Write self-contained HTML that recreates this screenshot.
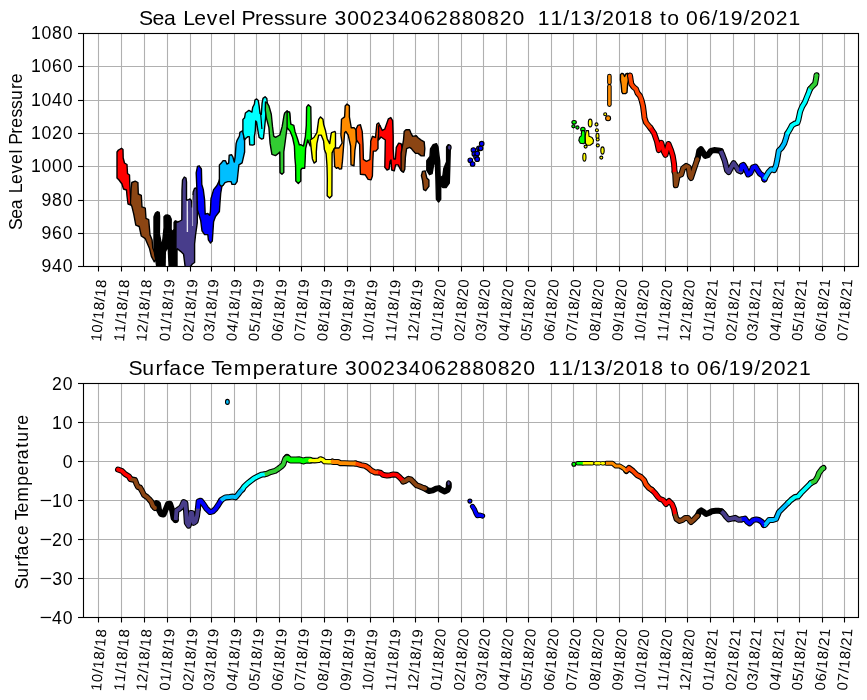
<!DOCTYPE html>
<html><head><meta charset="utf-8"><style>html,body{margin:0;padding:0;background:#fff;overflow:hidden}svg{display:block;will-change:transform}text{font-family:"Liberation Sans",sans-serif;fill:#000}</style></head>
<body><svg width="867" height="700" viewBox="0 0 867 700" stroke-width="1.11" fill="none">
<defs><clipPath id="c1"><rect x="83.5" y="33.5" width="775" height="233"/></clipPath><clipPath id="c2"><rect x="83.5" y="383.5" width="775" height="234"/></clipPath></defs>
<rect width="867" height="700" fill="#fff"/>
<path d="M83.5 266.5H858.5" stroke="#b0b0b0"/>
<path d="M83.5 233.5H858.5" stroke="#b0b0b0"/>
<path d="M83.5 200.5H858.5" stroke="#b0b0b0"/>
<path d="M83.5 166.5H858.5" stroke="#b0b0b0"/>
<path d="M83.5 133.5H858.5" stroke="#b0b0b0"/>
<path d="M83.5 100.5H858.5" stroke="#b0b0b0"/>
<path d="M83.5 66.5H858.5" stroke="#b0b0b0"/>
<path d="M83.5 33.5H858.5" stroke="#b0b0b0"/>
<path d="M98.5 33.5V266.5" stroke="#b0b0b0"/>
<path d="M121.5 33.5V266.5" stroke="#b0b0b0"/>
<path d="M144.5 33.5V266.5" stroke="#b0b0b0"/>
<path d="M167.5 33.5V266.5" stroke="#b0b0b0"/>
<path d="M190.5 33.5V266.5" stroke="#b0b0b0"/>
<path d="M211.5 33.5V266.5" stroke="#b0b0b0"/>
<path d="M234.5 33.5V266.5" stroke="#b0b0b0"/>
<path d="M256.5 33.5V266.5" stroke="#b0b0b0"/>
<path d="M279.5 33.5V266.5" stroke="#b0b0b0"/>
<path d="M301.5 33.5V266.5" stroke="#b0b0b0"/>
<path d="M324.5 33.5V266.5" stroke="#b0b0b0"/>
<path d="M347.5 33.5V266.5" stroke="#b0b0b0"/>
<path d="M370.5 33.5V266.5" stroke="#b0b0b0"/>
<path d="M393.5 33.5V266.5" stroke="#b0b0b0"/>
<path d="M415.5 33.5V266.5" stroke="#b0b0b0"/>
<path d="M438.5 33.5V266.5" stroke="#b0b0b0"/>
<path d="M461.5 33.5V266.5" stroke="#b0b0b0"/>
<path d="M483.5 33.5V266.5" stroke="#b0b0b0"/>
<path d="M506.5 33.5V266.5" stroke="#b0b0b0"/>
<path d="M528.5 33.5V266.5" stroke="#b0b0b0"/>
<path d="M551.5 33.5V266.5" stroke="#b0b0b0"/>
<path d="M573.5 33.5V266.5" stroke="#b0b0b0"/>
<path d="M596.5 33.5V266.5" stroke="#b0b0b0"/>
<path d="M619.5 33.5V266.5" stroke="#b0b0b0"/>
<path d="M642.5 33.5V266.5" stroke="#b0b0b0"/>
<path d="M665.5 33.5V266.5" stroke="#b0b0b0"/>
<path d="M687.5 33.5V266.5" stroke="#b0b0b0"/>
<path d="M710.5 33.5V266.5" stroke="#b0b0b0"/>
<path d="M733.5 33.5V266.5" stroke="#b0b0b0"/>
<path d="M754.5 33.5V266.5" stroke="#b0b0b0"/>
<path d="M777.5 33.5V266.5" stroke="#b0b0b0"/>
<path d="M799.5 33.5V266.5" stroke="#b0b0b0"/>
<path d="M822.5 33.5V266.5" stroke="#b0b0b0"/>
<path d="M844.5 33.5V266.5" stroke="#b0b0b0"/>
<g clip-path="url(#c1)"><polygon points="121.5,148.3 123.0,149.5 123.2,158.0 124.5,163.0 127.0,164.5 127.5,173.5 129.5,175.0 129.8,184.0 130.4,195.0 131.0,205.0 128.0,204.0 127.0,196.0 126.5,190.0 123.5,189.0 122.0,184.0 119.0,180.0 117.0,178.0 117.0,152.0 118.5,150.0" fill="#ff0000" stroke="#000" stroke-width="1.4" stroke-linejoin="round"/>
<polygon points="135.2,181.1 137.9,182.5 138.3,194.0 141.3,195.3 142.0,206.9 145.3,208.2 146.0,218.4 148.7,219.7 150.0,234.7 152.1,240.1 152.8,248.2 154.8,252.3 155.9,259.1 154.2,261.8 151.4,256.4 149.4,248.2 145.3,238.7 141.3,236.0 139.2,226.5 135.8,225.2 133.8,214.3 131.8,206.2 130.4,203.5 131.1,188.6 131.8,182.5" fill="#8b4513" stroke="#000" stroke-width="1.4" stroke-linejoin="round"/>
<polygon points="157.0,268.0 155.5,259.0 154.0,250.0 154.0,216.7 155.5,213.0 157.2,211.7 159.2,212.5 159.6,216.0 159.4,233.8 160.6,240.0 161.3,246.5 162.8,240.0 164.1,227.5 164.0,216.7 165.5,215.3 167.5,215.0 169.8,216.0 171.2,219.0 171.1,229.3 172.6,232.0 174.1,229.0 174.1,222.5 175.2,220.8 177.0,221.5 177.0,268.0" fill="#000000" stroke="#000" stroke-width="1.4" stroke-linejoin="round"/>
<polygon points="166,252 167.6,249 168.4,267 165.8,267" fill="#fff"/>
<polygon points="175.9,251.0 176.0,222.7 179.0,221.5 181.8,220.0 182.0,190.0 182.5,180.0 184.3,177.0 186.0,178.0 186.5,182.0 186.5,200.0 188.7,199.6 190.0,199.0 191.6,201.0 192.0,207.0 193.2,192.0 194.5,188.5 196.0,188.0 197.3,190.0 197.3,222.7 195.5,235.3 194.6,244.0 194.6,262.5 192.4,264.0 189.3,268.0 185.3,268.0 183.6,254.3 180.9,251.6 177.4,248.8" fill="#483d8b" stroke="#000" stroke-width="1.4" stroke-linejoin="round"/>
<polyline points="187.3,201 187.4,232" stroke="#fff" stroke-width="1.4" opacity="0.85"/><polyline points="192.6,195 192.6,226" stroke="#fff" stroke-width="1" opacity="0.6"/>
<polygon points="199.2,165.8 201.4,169.0 201.8,184.5 203.3,189.6 204.6,199.9 205.2,214.1 207.8,213.4 209.7,215.3 210.4,211.5 211.0,198.6 213.6,189.6 216.8,185.7 218.7,181.9 220.0,178.0 220.5,170.0 222.5,172.0 222.0,185.7 220.7,193.5 220.0,202.5 219.4,211.5 215.5,216.6 213.6,221.8 212.9,232.1 212.3,241.1 210.4,243.0 208.4,239.8 207.8,234.6 204.6,234.6 202.0,230.8 200.7,220.5 198.8,214.1 197.5,210.2 196.9,189.6 196.2,172.9 197.5,166.4" fill="#0000ff" stroke="#000" stroke-width="1.4" stroke-linejoin="round"/>
<polygon points="219.4,184.4 219.4,164.9 221.3,163.1 223.1,160.7 225.5,160.7 226.9,164.0 228.7,163.1 229.2,155.2 231.5,154.7 232.9,157.0 234.3,162.1 235.2,156.6 236.1,143.6 237.1,140.3 239.4,136.0 239.9,132.3 242.9,130.6 244.6,141.0 244.6,152.0 242.1,162.9 238.9,164.9 238.0,173.3 237.1,181.6 235.2,184.4 232.0,184.4 231.0,181.6 227.8,181.6 225.0,182.6 223.1,185.4 221.3,186.3" fill="#00bfff" stroke="#000" stroke-width="1.4" stroke-linejoin="round"/>
<polygon points="242.9,132.3 242.9,119.4 244.6,117.7 245.4,113.0 248.9,110.4 251.9,112.1 252.7,107.4 254.4,104.0 254.9,100.1 256.6,98.9 258.3,100.6 259.1,105.7 260.0,113.4 261.3,114.3 262.1,103.1 263.0,98.4 265.1,96.7 266.8,98.4 267.3,103.1 266.0,109.1 265.6,117.7 264.3,130.6 263.4,138.3 261.7,139.1 259.1,137.4 257.9,130.6 256.6,122.0 255.7,121.1 255.3,130.6 254.4,136.6 254.4,144.3 252.7,145.1 249.7,144.7 249.3,136.6 248.0,136.6 245.9,138.3 244.6,140.0" fill="#00ffff" stroke="#000" stroke-width="1.4" stroke-linejoin="round"/>
<polyline points="260.6,113.5 261.2,120 261.9,129" stroke="#000" stroke-width="1.2" fill="none"/>
<polygon points="265.5,102.0 267.3,103.1 268.9,105.8 271.3,114.3 272.5,126.4 273.7,136.2 275.5,137.4 279.8,135.0 282.2,126.4 284.0,115.5 284.7,113.0 287.1,110.8 289.6,113.2 290.5,124.0 290.0,130.0 287.0,128.0 285.3,141.0 283.8,151.9 283.8,172.6 282.0,174.2 280.0,172.6 279.8,151.9 278.6,153.2 275.5,155.6 271.9,154.4 270.1,143.4 268.9,127.7 266.4,118.0 265.3,110.0" fill="#32cd32" stroke="#000" stroke-width="1.4" stroke-linejoin="round"/>
<polygon points="287.1,112.0 289.6,112.0 290.8,124.2 293.8,125.4 295.0,131.4 297.5,138.7 299.3,144.8 301.1,144.8 303.5,146.0 305.4,136.3 306.3,125.4 306.6,107.1 308.4,104.7 310.8,107.1 311.2,131.4 311.4,138.7 310.2,146.0 307.7,140.0 305.6,148.6 305.1,161.4 304.7,168.3 302.1,168.3 300.8,170.0 300.8,181.1 298.3,183.4 295.8,181.1 295.6,165.7 294.9,158.0 294.4,146.0 292.6,137.5 290.2,131.4 287.1,127.8" fill="#00ff00" stroke="#000" stroke-width="1.4" stroke-linejoin="round"/>
<polygon points="310.2,140.0 313.9,137.5 316.9,132.7 318.7,119.3 320.5,116.9 323.0,119.3 323.6,124.2 325.4,130.2 327.2,138.7 329.7,143.6 330.9,135.1 331.5,132.7 335.0,131.4 335.5,133.0 335.5,147.0 333.8,149.4 332.1,152.9 332.0,174.3 331.9,195.7 329.6,198.0 327.2,195.7 327.3,178.6 327.0,165.7 326.1,153.7 324.4,149.4 323.6,141.0 321.2,135.1 318.7,135.1 316.9,143.6 316.3,152.0 316.3,161.4 314.1,163.1 312.4,158.9 311.1,147.7 310.7,144.0" fill="#ffff00" stroke="#000" stroke-width="1.4" stroke-linejoin="round"/>
<polygon points="333.8,149.4 334.3,157.1 334.7,166.6 336.4,168.3 338.1,167.4 339.4,169.1 341.6,168.7 342.4,161.4 343.4,148.4 344.6,132.7 345.8,131.4 348.2,135.1 350.6,146.0 351.0,164.9 354.0,165.7 354.9,150.3 356.5,140.0 356.1,130.2 354.3,127.8 351.3,127.8 349.4,116.9 349.4,105.9 347.0,104.1 345.2,105.9 344.6,116.9 341.5,119.3 340.9,135.1 342.1,143.0 339.0,148.0 335.5,148.0" fill="#ff8c00" stroke="#000" stroke-width="1.4" stroke-linejoin="round"/>
<polygon points="356.1,129.0 357.9,125.4 360.4,124.8 362.2,131.4 363.0,144.0 363.4,159.4 366.4,161.4 369.9,159.7 370.7,144.3 370.7,141.2 372.5,136.3 375.5,137.5 376.8,124.2 378.6,122.9 380.0,126.0 378.0,140.0 378.0,148.6 375.8,151.1 373.3,151.1 372.8,161.4 372.4,176.0 371.1,179.8 368.1,179.4 365.1,174.7 360.4,174.3 359.6,144.3 356.5,140.0" fill="#ff4500" stroke="#000" stroke-width="1.4" stroke-linejoin="round"/>
<polygon points="378.6,126.0 379.9,125.5 382.3,130.4 384.7,129.2 387.1,122.5 388.4,118.8 390.8,117.6 392.6,120.6 393.2,136.4 393.2,148.6 393.8,159.0 395.4,159.0 396.3,147.4 398.7,143.1 401.1,143.7 402.3,148.6 402.8,160.0 402.4,171.7 400.7,170.0 398.1,164.9 395.6,164.9 394.3,170.8 391.7,170.0 391.0,160.0 390.0,161.4 389.1,169.1 387.0,170.0 384.8,167.4 385.3,140.0 381.0,137.0 378.5,140.0" fill="#ff0000" stroke="#000" stroke-width="1.4" stroke-linejoin="round"/>
<polygon points="402.9,171.7 401.1,170.4 401.1,153.4 403.5,140.1 404.2,131.6 406.0,129.8 409.6,129.8 410.8,132.8 412.7,136.4 416.3,135.8 418.1,137.7 421.2,140.1 424.2,141.9 424.8,148.6 424.2,155.9 421.2,155.9 418.1,153.4 415.7,153.4 413.3,151.0 411.4,148.6 409.6,147.4 406.6,148.6 405.4,157.1 404.8,169.2 403.5,172.3" fill="#8b4513" stroke="#000" stroke-width="1.4" stroke-linejoin="round"/>
<polygon points="422.5,171.4 425.2,170.9 426.8,177.9 428.9,180.0 428.9,186.4 425.7,190.7 423.6,189.7 422.5,180.0 421.4,175.7" fill="#8b4513" stroke="#000" stroke-width="1.4" stroke-linejoin="round"/>
<polygon points="426.8,160.7 430.0,156.4 430.5,148.9 433.2,144.6 436.4,143.6 438.0,146.8 439.1,156.4 439.7,160.7 440.2,177.9 442.9,175.7 443.9,168.2 446.6,161.8 446.6,146.8 448.2,144.6 450.4,145.7 449.8,167.2 449.3,183.2 446.1,187.5 442.9,187.5 440.7,185.4 440.7,199.3 438.6,202.0 436.4,199.3 435.9,177.9 435.4,163.9 433.8,163.9 432.1,173.6 429.5,174.7 426.8,170.4" fill="#000000" stroke="#000" stroke-width="1.4" stroke-linejoin="round"/>
<ellipse cx="449.3" cy="147.6" rx="1.8" ry="2.6" fill="#483d8b" stroke="#000" stroke-width="1.1"/>
<circle cx="470.3" cy="160.3" r="2.3" fill="#0000ff" stroke="#000" stroke-width="1.1"/>
<circle cx="472.6" cy="164" r="2.3" fill="#0000ff" stroke="#000" stroke-width="1.1"/>
<circle cx="473.4" cy="150" r="2.3" fill="#0000ff" stroke="#000" stroke-width="1.1"/>
<circle cx="474.3" cy="154" r="2.3" fill="#0000ff" stroke="#000" stroke-width="1.1"/>
<circle cx="476" cy="156.9" r="2.3" fill="#0000ff" stroke="#000" stroke-width="1.1"/>
<circle cx="477.2" cy="153.4" r="2.3" fill="#0000ff" stroke="#000" stroke-width="1.1"/>
<circle cx="477.2" cy="159.2" r="2.3" fill="#0000ff" stroke="#000" stroke-width="1.1"/>
<circle cx="478.9" cy="148.3" r="2.3" fill="#0000ff" stroke="#000" stroke-width="1.1"/>
<circle cx="480.6" cy="148.3" r="2.3" fill="#0000ff" stroke="#000" stroke-width="1.1"/>
<circle cx="481.7" cy="143.7" r="2.3" fill="#0000ff" stroke="#000" stroke-width="1.1"/>
<ellipse cx="574.1" cy="122.3" rx="2.2" ry="1.8" fill="#00ff00" stroke="#000" stroke-width="1.1"/>
<circle cx="573.4" cy="126.3" r="1.6" fill="#00ff00" stroke="#000" stroke-width="1.1"/>
<circle cx="577.4" cy="127.5" r="1.6" fill="#00ff00" stroke="#000" stroke-width="1.1"/>
<circle cx="582.9" cy="129.4" r="2.2" fill="#00ff00" stroke="#000" stroke-width="1.1"/>
<polygon points="581.7,130.6 584.3,130.6 585.0,132.9 585.0,142.8 583.6,143.8 580.3,143.3 578.8,140.5 579.6,137.2 581.2,135.8" fill="#00ff00" stroke="#000" stroke-width="1.1" stroke-linejoin="round"/>
<polygon points="586.2,130.6 588.5,130.6 589.0,136.2 592.1,137.6 593.5,140.0 593.0,143.3 590.2,145.2 586.9,145.2 585.5,143.3 585.3,136.0" fill="#ffff00" stroke="#000" stroke-width="1.1" stroke-linejoin="round"/>
<ellipse cx="590.2" cy="123" rx="1.9" ry="3.9" fill="#ffff00" stroke="#000" stroke-width="1.1"/>
<circle cx="596.5" cy="124.4" r="1.5" fill="#ffff00" stroke="#000" stroke-width="1.1"/>
<circle cx="596.9" cy="130.2" r="1.5" fill="#ffff00" stroke="#000" stroke-width="1.1"/>
<ellipse cx="597.5" cy="136" rx="1.5" ry="2.8" fill="#ffff00" stroke="#000" stroke-width="1.1"/>
<circle cx="597.7" cy="139.5" r="1.5" fill="#ffff00" stroke="#000" stroke-width="1.1"/>
<circle cx="597.8" cy="145.4" r="1.5" fill="#ffff00" stroke="#000" stroke-width="1.1"/>
<ellipse cx="602.5" cy="150.5" rx="1.7" ry="3.6" fill="#ffff00" stroke="#000" stroke-width="1.1"/>
<circle cx="601.3" cy="157.6" r="1.5" fill="#ffff00" stroke="#000" stroke-width="1.1"/>
<circle cx="605.2" cy="114.3" r="1.5" fill="#ffff00" stroke="#000" stroke-width="1.1"/>
<ellipse cx="584.4" cy="157.2" rx="1.6" ry="3.9" fill="#ffff00" stroke="#000" stroke-width="1.1"/>
<circle cx="585.6" cy="146.6" r="1.5" fill="#ffff00" stroke="#000" stroke-width="1.1"/>
<circle cx="608.1" cy="118.2" r="2.5" fill="#ff8c00" stroke="#000" stroke-width="1.1"/>
<line x1="609.4" y1="76" x2="609.4" y2="82.8" stroke="#000" stroke-width="4.6" stroke-linecap="round"/><line x1="609.4" y1="76" x2="609.4" y2="82.8" stroke="#ff8c00" stroke-width="2.6" stroke-linecap="round"/>
<line x1="609.4" y1="86.4" x2="609.4" y2="104.6" stroke="#000" stroke-width="4.6" stroke-linecap="round"/><line x1="609.4" y1="86.4" x2="609.4" y2="104.6" stroke="#ff8c00" stroke-width="2.6" stroke-linecap="round"/>
<polygon points="620.5,74.5 622.0,73.3 623.5,74.0 624.6,76.5 625.8,74.0 627.2,73.3 628.6,74.5 628.6,80.0 627.6,84.0 627.0,92.5 625.5,93.6 622.8,93.6 621.8,92.0 621.2,85.0 620.4,80.0" fill="#ff8c00" stroke="#000" stroke-width="1.4" stroke-linejoin="round"/>
<polyline points="630.0,75.5 631.3,84.0 633.5,87.0 636.0,89.0 637.5,93.0 640.0,96.0 641.5,100.0 643.0,106.0 643.8,112.0 644.5,118.0 646.0,122.5 648.0,125.0 650.5,128.0" fill="none" stroke="#000" stroke-width="6.0" stroke-linejoin="round" stroke-linecap="round"/>
<polyline points="650.5,128.0 654.0,133.1 657.0,141.6 658.8,150.1 661.3,142.8 663.7,151.3 665.5,154.9 668.5,144.0 671.0,150.1 672.8,156.2 674.0,163.4 674.6,171.9" fill="none" stroke="#000" stroke-width="6.0" stroke-linejoin="round" stroke-linecap="round"/>
<polyline points="674.6,171.9 675.2,174.4 675.8,185.3 677.7,175.6 681.3,174.4 683.1,168.3 686.2,165.9 688.6,167.1 689.8,175.6 691.0,178.0 693.4,170.7 695.9,163.4 697.3,159.2" fill="none" stroke="#000" stroke-width="6.0" stroke-linejoin="round" stroke-linecap="round"/>
<polyline points="697.3,159.2 698.1,156.8 699.3,150.6 700.9,149.1 702.9,152.1 705.3,156.0 707.8,155.2 711.0,150.9 714.2,150.1 718.2,150.4 720.7,151.0" fill="none" stroke="#000" stroke-width="6.0" stroke-linejoin="round" stroke-linecap="round"/>
<polyline points="720.7,151.0 722.3,154.4 724.7,160.8 727.1,170.5 728.7,172.1 731.2,167.3 733.6,163.2 736.0,166.5 738.4,170.5 740.8,171.3" fill="none" stroke="#000" stroke-width="6.0" stroke-linejoin="round" stroke-linecap="round"/>
<polyline points="740.8,171.3 741.7,165.7 743.3,164.9 745.7,168.9 748.1,174.5 750.5,172.9 753.0,167.3 755.4,166.5 757.8,170.5 760.0,173.7 763.0,175.7 764.4,179.4" fill="none" stroke="#000" stroke-width="6.0" stroke-linejoin="round" stroke-linecap="round"/>
<polyline points="764.4,179.4 765.3,177.6 768.6,172.0 771.4,169.2 774.1,170.1 776.0,165.5 777.4,159.0 778.8,150.6 781.6,147.9 784.4,143.2 786.2,137.6 787.1,133.9" fill="none" stroke="#000" stroke-width="6.0" stroke-linejoin="round" stroke-linecap="round"/>
<polyline points="787.1,133.9 789.9,129.3 791.8,125.6 794.6,123.7 797.4,122.8 798.4,119.8 800.2,111.4 802.1,106.8 804.9,102.1 806.7,97.5 808.6,92.9 810.0,89.1" fill="none" stroke="#000" stroke-width="6.0" stroke-linejoin="round" stroke-linecap="round"/>
<polyline points="810.0,89.1 812.3,86.4 815.1,83.6 816.0,78.9 816.5,75.2" fill="none" stroke="#000" stroke-width="6.0" stroke-linejoin="round" stroke-linecap="round"/>
<polyline points="630.0,75.5 631.3,84.0 633.5,87.0 636.0,89.0 637.5,93.0 640.0,96.0 641.5,100.0 643.0,106.0 643.8,112.0 644.5,118.0 646.0,122.5 648.0,125.0 650.5,128.0" fill="none" stroke="#ff4500" stroke-width="3.8" stroke-linejoin="round" stroke-linecap="butt"/>
<circle cx="630" cy="75.5" r="1.9" fill="#ff4500"/>
<circle cx="650.5" cy="128" r="1.9" fill="#ff4500"/>
<polyline points="650.5,128.0 654.0,133.1 657.0,141.6 658.8,150.1 661.3,142.8 663.7,151.3 665.5,154.9 668.5,144.0 671.0,150.1 672.8,156.2 674.0,163.4 674.6,171.9" fill="none" stroke="#ff0000" stroke-width="3.8" stroke-linejoin="round" stroke-linecap="butt"/>
<circle cx="674.6" cy="171.9" r="1.9" fill="#ff0000"/>
<polyline points="674.6,171.9 675.2,174.4 675.8,185.3 677.7,175.6 681.3,174.4 683.1,168.3 686.2,165.9 688.6,167.1 689.8,175.6 691.0,178.0 693.4,170.7 695.9,163.4 697.3,159.2" fill="none" stroke="#8b4513" stroke-width="3.8" stroke-linejoin="round" stroke-linecap="butt"/>
<circle cx="697.3" cy="159.2" r="1.9" fill="#8b4513"/>
<polyline points="720.7,151.0 722.3,154.4 724.7,160.8 727.1,170.5 728.7,172.1 731.2,167.3 733.6,163.2 736.0,166.5 738.4,170.5 740.8,171.3" fill="none" stroke="#483d8b" stroke-width="3.8" stroke-linejoin="round" stroke-linecap="butt"/>
<circle cx="740.8" cy="171.3" r="1.9" fill="#483d8b"/>
<polyline points="740.8,171.3 741.7,165.7 743.3,164.9 745.7,168.9 748.1,174.5 750.5,172.9 753.0,167.3 755.4,166.5 757.8,170.5 760.0,173.7 763.0,175.7 764.4,179.4" fill="none" stroke="#0000ff" stroke-width="3.8" stroke-linejoin="round" stroke-linecap="butt"/>
<circle cx="764.4" cy="179.4" r="1.9" fill="#0000ff"/>
<polyline points="764.4,179.4 765.3,177.6 768.6,172.0 771.4,169.2 774.1,170.1 776.0,165.5 777.4,159.0 778.8,150.6 781.6,147.9 784.4,143.2 786.2,137.6 787.1,133.9" fill="none" stroke="#00bfff" stroke-width="3.8" stroke-linejoin="round" stroke-linecap="butt"/>
<circle cx="787.1" cy="133.9" r="1.9" fill="#00bfff"/>
<polyline points="787.1,133.9 789.9,129.3 791.8,125.6 794.6,123.7 797.4,122.8 798.4,119.8 800.2,111.4 802.1,106.8 804.9,102.1 806.7,97.5 808.6,92.9 810.0,89.1" fill="none" stroke="#00ffff" stroke-width="3.8" stroke-linejoin="round" stroke-linecap="butt"/>
<circle cx="810" cy="89.1" r="1.9" fill="#00ffff"/>
<polyline points="810.0,89.1 812.3,86.4 815.1,83.6 816.0,78.9 816.5,75.2" fill="none" stroke="#32cd32" stroke-width="3.8" stroke-linejoin="round" stroke-linecap="butt"/>
<circle cx="816.5" cy="75.2" r="1.9" fill="#32cd32"/></g>
<rect x="83.5" y="33.5" width="775.0" height="233.0" fill="none" stroke="#000"/>
<path d="M78 266.5H83.5" stroke="#000"/>
<g transform="translate(41.19,272.28)"><text x="0.25 10.92 21.44" y="0" font-size="17.633">940</text></g>
<path d="M78 233.5H83.5" stroke="#000"/>
<g transform="translate(41.19,239.28)"><text x="0.25 10.93 21.44" y="0" font-size="17.633">960</text></g>
<path d="M78 200.5H83.5" stroke="#000"/>
<g transform="translate(41.19,206.28)"><text x="0.25 10.93 21.44" y="0" font-size="17.633">980</text></g>
<path d="M78 166.5H83.5" stroke="#000"/>
<g transform="translate(30.61,172.28)"><text x="0.31 10.87 21.44 32.02" y="0" font-size="17.633">1000</text></g>
<path d="M78 133.5H83.5" stroke="#000"/>
<g transform="translate(30.61,139.28)"><text x="0.31 10.87 21.40 32.02" y="0" font-size="17.633">1020</text></g>
<path d="M78 100.5H83.5" stroke="#000"/>
<g transform="translate(30.61,106.28)"><text x="0.31 10.87 21.50 32.02" y="0" font-size="17.633">1040</text></g>
<path d="M78 66.5H83.5" stroke="#000"/>
<g transform="translate(30.61,72.28)"><text x="0.31 10.87 21.51 32.02" y="0" font-size="17.633">1060</text></g>
<path d="M78 33.5H83.5" stroke="#000"/>
<g transform="translate(30.61,39.28)"><text x="0.31 10.87 21.51 32.02" y="0" font-size="17.633">1080</text></g>
<path d="M98.5 266.5V271.5" stroke="#000"/>
<g transform="translate(101.01,341.92) rotate(-85)"><text x="0.28 8.99 17.94 22.61 31.56 40.27 44.94 53.89" y="0" font-size="14.694">10/18/18</text></g>
<path d="M121.5 266.5V271.5" stroke="#000"/>
<g transform="translate(124.04,341.92) rotate(-85)"><text x="0.28 9.11 17.94 22.61 31.56 40.27 44.94 53.89" y="0" font-size="14.694">11/18/18</text></g>
<path d="M144.5 266.5V271.5" stroke="#000"/>
<g transform="translate(146.33,341.92) rotate(-85)"><text x="0.28 8.89 17.94 22.61 31.56 40.27 44.94 53.89" y="0" font-size="14.694">12/18/18</text></g>
<path d="M167.5 266.5V271.5" stroke="#000"/>
<g transform="translate(169.39,341.54) rotate(-85)"><text x="0.16 9.11 17.94 22.61 31.56 40.27 44.94 53.68" y="0" font-size="14.694">01/18/19</text></g>
<path d="M190.5 266.5V271.5" stroke="#000"/>
<g transform="translate(192.43,341.54) rotate(-85)"><text x="0.16 8.89 17.94 22.61 31.56 40.27 44.94 53.68" y="0" font-size="14.694">02/18/19</text></g>
<path d="M211.5 266.5V271.5" stroke="#000"/>
<g transform="translate(213.23,341.54) rotate(-85)"><text x="0.16 9.20 17.94 22.61 31.56 40.27 44.94 53.68" y="0" font-size="14.694">03/18/19</text></g>
<path d="M234.5 266.5V271.5" stroke="#000"/>
<g transform="translate(236.26,341.54) rotate(-85)"><text x="0.16 9.12 17.94 22.61 31.56 40.27 44.94 53.68" y="0" font-size="14.694">04/18/19</text></g>
<path d="M256.5 266.5V271.5" stroke="#000"/>
<g transform="translate(258.55,341.54) rotate(-85)"><text x="0.16 9.12 17.94 22.61 31.56 40.27 44.94 53.68" y="0" font-size="14.694">05/18/19</text></g>
<path d="M279.5 266.5V271.5" stroke="#000"/>
<g transform="translate(281.59,341.54) rotate(-85)"><text x="0.16 9.12 17.94 22.61 31.56 40.27 44.94 53.68" y="0" font-size="14.694">06/18/19</text></g>
<path d="M301.5 266.5V271.5" stroke="#000"/>
<g transform="translate(303.88,341.54) rotate(-85)"><text x="0.16 9.08 17.94 22.61 31.56 40.27 44.94 53.68" y="0" font-size="14.694">07/18/19</text></g>
<path d="M324.5 266.5V271.5" stroke="#000"/>
<g transform="translate(326.91,341.54) rotate(-85)"><text x="0.16 9.23 17.94 22.61 31.56 40.27 44.94 53.68" y="0" font-size="14.694">08/18/19</text></g>
<path d="M347.5 266.5V271.5" stroke="#000"/>
<g transform="translate(349.94,341.54) rotate(-85)"><text x="0.16 9.02 17.94 22.61 31.56 40.27 44.94 53.68" y="0" font-size="14.694">09/18/19</text></g>
<path d="M370.5 266.5V271.5" stroke="#000"/>
<g transform="translate(372.20,341.88) rotate(-85)"><text x="0.28 8.99 17.94 22.61 31.56 40.27 44.94 53.68" y="0" font-size="14.694">10/18/19</text></g>
<path d="M393.5 266.5V271.5" stroke="#000"/>
<g transform="translate(395.24,341.88) rotate(-85)"><text x="0.28 9.11 17.94 22.61 31.56 40.27 44.94 53.68" y="0" font-size="14.694">11/18/19</text></g>
<path d="M415.5 266.5V271.5" stroke="#000"/>
<g transform="translate(417.53,341.88) rotate(-85)"><text x="0.28 8.89 17.94 22.61 31.56 40.27 44.94 53.68" y="0" font-size="14.694">12/18/19</text></g>
<path d="M438.5 266.5V271.5" stroke="#000"/>
<g transform="translate(440.59,341.51) rotate(-85)"><text x="0.16 9.11 17.94 22.61 31.56 40.27 44.72 53.65" y="0" font-size="14.694">01/18/20</text></g>
<path d="M461.5 266.5V271.5" stroke="#000"/>
<g transform="translate(463.62,341.51) rotate(-85)"><text x="0.16 8.89 17.94 22.61 31.56 40.27 44.72 53.65" y="0" font-size="14.694">02/18/20</text></g>
<path d="M483.5 266.5V271.5" stroke="#000"/>
<g transform="translate(485.17,341.51) rotate(-85)"><text x="0.16 9.20 17.94 22.61 31.56 40.27 44.72 53.65" y="0" font-size="14.694">03/18/20</text></g>
<path d="M506.5 266.5V271.5" stroke="#000"/>
<g transform="translate(508.20,341.51) rotate(-85)"><text x="0.16 9.12 17.94 22.61 31.56 40.27 44.72 53.65" y="0" font-size="14.694">04/18/20</text></g>
<path d="M528.5 266.5V271.5" stroke="#000"/>
<g transform="translate(530.49,341.51) rotate(-85)"><text x="0.16 9.12 17.94 22.61 31.56 40.27 44.72 53.65" y="0" font-size="14.694">05/18/20</text></g>
<path d="M551.5 266.5V271.5" stroke="#000"/>
<g transform="translate(553.53,341.51) rotate(-85)"><text x="0.16 9.12 17.94 22.61 31.56 40.27 44.72 53.65" y="0" font-size="14.694">06/18/20</text></g>
<path d="M573.5 266.5V271.5" stroke="#000"/>
<g transform="translate(575.82,341.51) rotate(-85)"><text x="0.16 9.08 17.94 22.61 31.56 40.27 44.72 53.65" y="0" font-size="14.694">07/18/20</text></g>
<path d="M596.5 266.5V271.5" stroke="#000"/>
<g transform="translate(598.85,341.51) rotate(-85)"><text x="0.16 9.23 17.94 22.61 31.56 40.27 44.72 53.65" y="0" font-size="14.694">08/18/20</text></g>
<path d="M619.5 266.5V271.5" stroke="#000"/>
<g transform="translate(621.88,341.51) rotate(-85)"><text x="0.16 9.02 17.94 22.61 31.56 40.27 44.72 53.65" y="0" font-size="14.694">09/18/20</text></g>
<path d="M642.5 266.5V271.5" stroke="#000"/>
<g transform="translate(644.14,341.85) rotate(-85)"><text x="0.28 8.99 17.94 22.61 31.56 40.27 44.72 53.65" y="0" font-size="14.694">10/18/20</text></g>
<path d="M665.5 266.5V271.5" stroke="#000"/>
<g transform="translate(667.18,341.85) rotate(-85)"><text x="0.28 9.11 17.94 22.61 31.56 40.27 44.72 53.65" y="0" font-size="14.694">11/18/20</text></g>
<path d="M687.5 266.5V271.5" stroke="#000"/>
<g transform="translate(689.47,341.85) rotate(-85)"><text x="0.28 8.89 17.94 22.61 31.56 40.27 44.72 53.65" y="0" font-size="14.694">12/18/20</text></g>
<path d="M710.5 266.5V271.5" stroke="#000"/>
<g transform="translate(712.54,341.42) rotate(-85)"><text x="0.16 9.11 17.94 22.61 31.56 40.27 44.72 53.77" y="0" font-size="14.694">01/18/21</text></g>
<path d="M733.5 266.5V271.5" stroke="#000"/>
<g transform="translate(735.57,341.42) rotate(-85)"><text x="0.16 8.89 17.94 22.61 31.56 40.27 44.72 53.77" y="0" font-size="14.694">02/18/21</text></g>
<path d="M754.5 266.5V271.5" stroke="#000"/>
<g transform="translate(756.37,341.42) rotate(-85)"><text x="0.16 9.20 17.94 22.61 31.56 40.27 44.72 53.77" y="0" font-size="14.694">03/18/21</text></g>
<path d="M777.5 266.5V271.5" stroke="#000"/>
<g transform="translate(779.41,341.42) rotate(-85)"><text x="0.16 9.12 17.94 22.61 31.56 40.27 44.72 53.77" y="0" font-size="14.694">04/18/21</text></g>
<path d="M799.5 266.5V271.5" stroke="#000"/>
<g transform="translate(801.70,341.42) rotate(-85)"><text x="0.16 9.12 17.94 22.61 31.56 40.27 44.72 53.77" y="0" font-size="14.694">05/18/21</text></g>
<path d="M822.5 266.5V271.5" stroke="#000"/>
<g transform="translate(824.73,341.42) rotate(-85)"><text x="0.16 9.12 17.94 22.61 31.56 40.27 44.72 53.77" y="0" font-size="14.694">06/18/21</text></g>
<path d="M844.5 266.5V271.5" stroke="#000"/>
<g transform="translate(847.02,341.42) rotate(-85)"><text x="0.16 9.08 17.94 22.61 31.56 40.27 44.72 53.77" y="0" font-size="14.694">07/18/21</text></g>
<g transform="translate(139.55,24.90) scale(1,0.966)"><text x="-0.53 13.04 24.55 37.26 43.74 54.72 67.32 78.87 91.26 96.38 102.05 115.49 122.49 134.52 144.94 155.76 169.03 176.04 188.00 194.88 207.58 220.30 232.84 245.78 258.41 271.20 283.86 296.46 309.40 322.12 334.82 347.57 360.09 373.00 385.22 391.58 398.28 411.01 423.82 430.47 443.37 456.00 462.62 475.54 488.11 501.01 513.21 520.41 527.67 539.65 546.50 559.17 571.88 578.54 591.29 604.07 610.69 623.60 636.14 648.90" y="0" font-size="21.159">Sea Level Pressure 300234062880820  11/13/2018 to 06/19/2021</text></g>
<g transform="translate(21.58,229.60) rotate(-90)"><text x="-0.53 10.78 20.28 30.97 36.25 45.49 56.01 65.56 76.06 80.18 84.84 95.96 101.93 112.02 120.68 129.60 140.51 146.47" y="0" font-size="17.633">Sea Level Pressure</text></g>
<path d="M83.5 617.5H858.5" stroke="#b0b0b0"/>
<path d="M83.5 578.5H858.5" stroke="#b0b0b0"/>
<path d="M83.5 539.5H858.5" stroke="#b0b0b0"/>
<path d="M83.5 500.5H858.5" stroke="#b0b0b0"/>
<path d="M83.5 461.5H858.5" stroke="#b0b0b0"/>
<path d="M83.5 422.5H858.5" stroke="#b0b0b0"/>
<path d="M83.5 383.5H858.5" stroke="#b0b0b0"/>
<path d="M98.5 383.5V617.5" stroke="#b0b0b0"/>
<path d="M121.5 383.5V617.5" stroke="#b0b0b0"/>
<path d="M144.5 383.5V617.5" stroke="#b0b0b0"/>
<path d="M167.5 383.5V617.5" stroke="#b0b0b0"/>
<path d="M190.5 383.5V617.5" stroke="#b0b0b0"/>
<path d="M211.5 383.5V617.5" stroke="#b0b0b0"/>
<path d="M234.5 383.5V617.5" stroke="#b0b0b0"/>
<path d="M256.5 383.5V617.5" stroke="#b0b0b0"/>
<path d="M279.5 383.5V617.5" stroke="#b0b0b0"/>
<path d="M301.5 383.5V617.5" stroke="#b0b0b0"/>
<path d="M324.5 383.5V617.5" stroke="#b0b0b0"/>
<path d="M347.5 383.5V617.5" stroke="#b0b0b0"/>
<path d="M370.5 383.5V617.5" stroke="#b0b0b0"/>
<path d="M393.5 383.5V617.5" stroke="#b0b0b0"/>
<path d="M415.5 383.5V617.5" stroke="#b0b0b0"/>
<path d="M438.5 383.5V617.5" stroke="#b0b0b0"/>
<path d="M461.5 383.5V617.5" stroke="#b0b0b0"/>
<path d="M483.5 383.5V617.5" stroke="#b0b0b0"/>
<path d="M506.5 383.5V617.5" stroke="#b0b0b0"/>
<path d="M528.5 383.5V617.5" stroke="#b0b0b0"/>
<path d="M551.5 383.5V617.5" stroke="#b0b0b0"/>
<path d="M573.5 383.5V617.5" stroke="#b0b0b0"/>
<path d="M596.5 383.5V617.5" stroke="#b0b0b0"/>
<path d="M619.5 383.5V617.5" stroke="#b0b0b0"/>
<path d="M642.5 383.5V617.5" stroke="#b0b0b0"/>
<path d="M665.5 383.5V617.5" stroke="#b0b0b0"/>
<path d="M687.5 383.5V617.5" stroke="#b0b0b0"/>
<path d="M710.5 383.5V617.5" stroke="#b0b0b0"/>
<path d="M733.5 383.5V617.5" stroke="#b0b0b0"/>
<path d="M754.5 383.5V617.5" stroke="#b0b0b0"/>
<path d="M777.5 383.5V617.5" stroke="#b0b0b0"/>
<path d="M799.5 383.5V617.5" stroke="#b0b0b0"/>
<path d="M822.5 383.5V617.5" stroke="#b0b0b0"/>
<path d="M844.5 383.5V617.5" stroke="#b0b0b0"/>
<g clip-path="url(#c2)"><polyline points="118.0,469.5 122.0,471.0 125.0,474.0 129.0,476.5 130.5,479.0" fill="none" stroke="#000" stroke-width="6.0" stroke-linejoin="round" stroke-linecap="round"/>
<polyline points="130.5,479.0 132.0,479.5 135.0,480.0 136.5,484.0 138.0,487.0 140.0,487.5 142.0,491.0 144.0,495.0 147.0,497.0 149.0,499.0 151.5,502.0 153.0,506.0 155.0,508.0" fill="none" stroke="#000" stroke-width="6.0" stroke-linejoin="round" stroke-linecap="round"/>
<polyline points="155.0,508.0 156.5,503.0 158.0,504.0 159.0,510.0 161.0,514.0 163.5,514.5 165.5,510.0 167.9,504.0 170.0,503.8 172.1,510.0 173.6,518.0 175.7,520.0" fill="none" stroke="#000" stroke-width="6.0" stroke-linejoin="round" stroke-linecap="round"/>
<polyline points="175.7,520.0 176.4,510.7 178.6,509.3 181.4,507.1 183.6,502.1 185.4,502.9 186.1,512.1 186.8,522.9 188.6,525.7 190.0,520.0 190.7,512.9 192.1,512.9 193.6,522.9 195.7,521.4 197.1,515.7 197.9,508.6" fill="none" stroke="#000" stroke-width="6.0" stroke-linejoin="round" stroke-linecap="round"/>
<polyline points="197.9,508.6 198.6,501.4 200.7,500.7 203.6,504.3 206.4,508.6 210.0,512.1 212.9,511.4 215.7,508.6 218.4,504.7 221.0,500.4" fill="none" stroke="#000" stroke-width="6.0" stroke-linejoin="round" stroke-linecap="round"/>
<polyline points="221.0,500.4 221.9,499.6 225.3,497.4 229.6,497.0 233.0,496.6 235.6,497.4 238.1,494.4 240.7,491.0 242.4,489.3" fill="none" stroke="#000" stroke-width="6.0" stroke-linejoin="round" stroke-linecap="round"/>
<polyline points="242.4,489.3 244.1,486.7 247.6,483.3 251.0,480.7 254.4,478.1 257.8,476.4 261.3,474.7 264.7,474.3" fill="none" stroke="#000" stroke-width="6.0" stroke-linejoin="round" stroke-linecap="round"/>
<polyline points="264.7,474.3 266.4,473.9 270.7,472.1 275.0,470.9 278.4,468.7 281.8,466.1 283.5,464.0 284.4,461.0 285.3,458.7 287.0,457.4" fill="none" stroke="#000" stroke-width="6.0" stroke-linejoin="round" stroke-linecap="round"/>
<polyline points="287.0,457.4 288.7,459.0 290.5,460.0 293.0,460.0 296.0,460.0 299.4,459.8 301.8,460.5 303.4,461.0 305.8,460.2 309.9,460.2" fill="none" stroke="#000" stroke-width="7.0" stroke-linejoin="round" stroke-linecap="round"/>
<polyline points="309.9,460.4 314.7,460.6 318.7,460.3 320.4,459.0 322.8,459.8 324.4,461.5 328.4,461.7 332.5,461.7" fill="none" stroke="#000" stroke-width="5.6" stroke-linejoin="round" stroke-linecap="round"/>
<polyline points="332.5,461.5 333.3,462.0 338.1,462.0 340.5,463.2 344.6,463.2 350.0,463.4 355.5,463.5" fill="none" stroke="#000" stroke-width="6.0" stroke-linejoin="round" stroke-linecap="round"/>
<polyline points="355.5,463.5 357.1,463.9 361.1,465.1 365.2,465.9 368.4,467.9 371.6,470.7 374.9,472.4 378.1,472.4" fill="none" stroke="#000" stroke-width="6.0" stroke-linejoin="round" stroke-linecap="round"/>
<polyline points="378.1,472.4 380.5,472.8 382.9,474.8 387.0,475.6 390.2,475.2 393.4,474.4 396.7,474.8 399.9,477.6 402.3,480.0" fill="none" stroke="#000" stroke-width="6.0" stroke-linejoin="round" stroke-linecap="round"/>
<polyline points="402.3,480.0 403.1,481.6 405.5,480.8 408.5,478.8 410.8,479.4 413.7,482.3 416.5,485.2 419.4,486.3 422.3,487.5 425.2,488.6" fill="none" stroke="#000" stroke-width="6.0" stroke-linejoin="round" stroke-linecap="round"/>
<polyline points="425.2,488.6 426.9,489.8 429.2,491.0 432.7,490.4 436.1,488.6 439.0,488.1 441.3,489.8 444.8,491.5 447.7,489.8 448.8,486.9 448.8,484.0" fill="none" stroke="#000" stroke-width="6.0" stroke-linejoin="round" stroke-linecap="round"/>
<polyline points="472.5,506.4 474.4,509.3 475.7,512.6 477.4,515.6 480.0,515.1 482.6,516.0" fill="none" stroke="#000" stroke-width="5.2" stroke-linejoin="round" stroke-linecap="round"/>
<polyline points="577.6,463.3 582.8,463.3" fill="none" stroke="#000" stroke-width="4.4" stroke-linejoin="round" stroke-linecap="round"/>
<polyline points="582.8,463.3 592.4,463.3" fill="none" stroke="#000" stroke-width="4.4" stroke-linejoin="round" stroke-linecap="round"/>
<polyline points="606.4,463.3 612.6,463.3 615.8,466.1 619.9,466.1 623.9,468.6 626.3,471.0" fill="none" stroke="#000" stroke-width="5.0" stroke-linejoin="round" stroke-linecap="round"/>
<polyline points="626.3,471.0 629.0,468.0 633.0,471.0 637.0,475.0 641.0,477.0 644.0,480.0 646.0,484.5 649.0,488.0 652.0,490.0" fill="none" stroke="#000" stroke-width="6.0" stroke-linejoin="round" stroke-linecap="round"/>
<polyline points="652.0,490.0 655.0,493.0 658.0,497.0 660.0,499.0 663.0,500.0 666.0,504.0 669.0,501.0 672.0,504.0 674.0,509.0 675.0,514.0" fill="none" stroke="#000" stroke-width="6.0" stroke-linejoin="round" stroke-linecap="round"/>
<polyline points="675.0,514.0 676.5,519.0 679.5,521.0 682.5,520.0 685.0,518.0 688.0,518.0 691.0,522.0 694.0,519.4 697.6,515.6" fill="none" stroke="#000" stroke-width="6.0" stroke-linejoin="round" stroke-linecap="round"/>
<polyline points="697.6,515.6 699.2,512.0 701.3,510.4 703.7,512.0 706.1,514.0 709.4,512.8 711.8,511.2 715.8,510.8 719.1,510.8 721.5,511.4" fill="none" stroke="#000" stroke-width="6.0" stroke-linejoin="round" stroke-linecap="round"/>
<polyline points="721.5,511.4 723.9,513.7 726.3,517.0 728.7,519.4 732.0,518.6 735.2,517.8 738.4,519.8 741.7,519.4" fill="none" stroke="#000" stroke-width="6.0" stroke-linejoin="round" stroke-linecap="round"/>
<polyline points="741.7,519.4 744.9,518.6 747.3,521.8 749.7,523.4 753.0,520.2 756.2,519.4 759.0,520.0 762.0,522.0 764.0,525.0" fill="none" stroke="#000" stroke-width="6.0" stroke-linejoin="round" stroke-linecap="round"/>
<polyline points="764.0,525.0 765.0,525.0 769.0,520.0 773.0,520.0 776.0,519.0 779.0,512.0 783.0,508.0 786.0,505.0 788.0,503.0" fill="none" stroke="#000" stroke-width="6.0" stroke-linejoin="round" stroke-linecap="round"/>
<polyline points="788.0,503.0 791.0,500.0 795.0,497.0 798.0,496.5 801.0,493.0 805.0,489.0 808.0,486.0 811.0,483.0" fill="none" stroke="#000" stroke-width="6.0" stroke-linejoin="round" stroke-linecap="round"/>
<polyline points="811.0,483.0 815.0,481.0 817.5,477.0 819.0,473.0 822.0,469.0 823.5,468.0" fill="none" stroke="#000" stroke-width="6.0" stroke-linejoin="round" stroke-linecap="round"/>
<polyline points="118.0,469.5 122.0,471.0 125.0,474.0 129.0,476.5 130.5,479.0" fill="none" stroke="#ff0000" stroke-width="3.8" stroke-linejoin="round" stroke-linecap="butt"/>
<circle cx="118" cy="469.5" r="1.9" fill="#ff0000"/>
<circle cx="130.5" cy="479" r="1.9" fill="#ff0000"/>
<polyline points="130.5,479.0 132.0,479.5 135.0,480.0 136.5,484.0 138.0,487.0 140.0,487.5 142.0,491.0 144.0,495.0 147.0,497.0 149.0,499.0 151.5,502.0 153.0,506.0 155.0,508.0" fill="none" stroke="#8b4513" stroke-width="3.8" stroke-linejoin="round" stroke-linecap="butt"/>
<circle cx="155" cy="508" r="1.9" fill="#8b4513"/>
<polyline points="175.7,520.0 176.4,510.7 178.6,509.3 181.4,507.1 183.6,502.1 185.4,502.9 186.1,512.1 186.8,522.9 188.6,525.7 190.0,520.0 190.7,512.9 192.1,512.9 193.6,522.9 195.7,521.4 197.1,515.7 197.9,508.6" fill="none" stroke="#483d8b" stroke-width="3.8" stroke-linejoin="round" stroke-linecap="butt"/>
<circle cx="197.9" cy="508.6" r="1.9" fill="#483d8b"/>
<polyline points="197.9,508.6 198.6,501.4 200.7,500.7 203.6,504.3 206.4,508.6 210.0,512.1 212.9,511.4 215.7,508.6 218.4,504.7 221.0,500.4" fill="none" stroke="#0000ff" stroke-width="3.8" stroke-linejoin="round" stroke-linecap="butt"/>
<circle cx="221" cy="500.4" r="1.9" fill="#0000ff"/>
<polyline points="221.0,500.4 221.9,499.6 225.3,497.4 229.6,497.0 233.0,496.6 235.6,497.4 238.1,494.4 240.7,491.0 242.4,489.3" fill="none" stroke="#00bfff" stroke-width="3.8" stroke-linejoin="round" stroke-linecap="butt"/>
<circle cx="242.4" cy="489.3" r="1.9" fill="#00bfff"/>
<polyline points="242.4,489.3 244.1,486.7 247.6,483.3 251.0,480.7 254.4,478.1 257.8,476.4 261.3,474.7 264.7,474.3" fill="none" stroke="#00ffff" stroke-width="3.8" stroke-linejoin="round" stroke-linecap="butt"/>
<circle cx="264.7" cy="474.3" r="1.9" fill="#00ffff"/>
<polyline points="264.7,474.3 266.4,473.9 270.7,472.1 275.0,470.9 278.4,468.7 281.8,466.1 283.5,464.0 284.4,461.0 285.3,458.7 287.0,457.4" fill="none" stroke="#32cd32" stroke-width="3.8" stroke-linejoin="round" stroke-linecap="butt"/>
<circle cx="287" cy="457.4" r="1.9" fill="#32cd32"/>
<polyline points="287.0,457.4 288.7,459.0 290.5,460.0 293.0,460.0 296.0,460.0 299.4,459.8 301.8,460.5 303.4,461.0 305.8,460.2 309.9,460.2" fill="none" stroke="#00ff00" stroke-width="4.8" stroke-linejoin="round" stroke-linecap="butt"/>
<circle cx="309.9" cy="460.2" r="2.4" fill="#00ff00"/>
<polyline points="309.9,460.4 314.7,460.6 318.7,460.3 320.4,459.0 322.8,459.8 324.4,461.5 328.4,461.7 332.5,461.7" fill="none" stroke="#ffff00" stroke-width="3.4" stroke-linejoin="round" stroke-linecap="butt"/>
<circle cx="309.9" cy="460.4" r="1.7" fill="#ffff00"/>
<circle cx="332.5" cy="461.7" r="1.7" fill="#ffff00"/>
<polyline points="332.5,461.5 333.3,462.0 338.1,462.0 340.5,463.2 344.6,463.2 350.0,463.4 355.5,463.5" fill="none" stroke="#ff8c00" stroke-width="3.8" stroke-linejoin="round" stroke-linecap="butt"/>
<circle cx="332.5" cy="461.5" r="1.9" fill="#ff8c00"/>
<circle cx="355.5" cy="463.5" r="1.9" fill="#ff8c00"/>
<polyline points="355.5,463.5 357.1,463.9 361.1,465.1 365.2,465.9 368.4,467.9 371.6,470.7 374.9,472.4 378.1,472.4" fill="none" stroke="#ff4500" stroke-width="3.8" stroke-linejoin="round" stroke-linecap="butt"/>
<circle cx="378.1" cy="472.4" r="1.9" fill="#ff4500"/>
<polyline points="378.1,472.4 380.5,472.8 382.9,474.8 387.0,475.6 390.2,475.2 393.4,474.4 396.7,474.8 399.9,477.6 402.3,480.0" fill="none" stroke="#ff0000" stroke-width="3.8" stroke-linejoin="round" stroke-linecap="butt"/>
<circle cx="402.3" cy="480" r="1.9" fill="#ff0000"/>
<polyline points="402.3,480.0 403.1,481.6 405.5,480.8 408.5,478.8 410.8,479.4 413.7,482.3 416.5,485.2 419.4,486.3 422.3,487.5 425.2,488.6" fill="none" stroke="#8b4513" stroke-width="3.8" stroke-linejoin="round" stroke-linecap="butt"/>
<circle cx="425.2" cy="488.6" r="1.9" fill="#8b4513"/>
<polyline points="472.5,506.4 474.4,509.3 475.7,512.6 477.4,515.6 480.0,515.1 482.6,516.0" fill="none" stroke="#0000ff" stroke-width="3.2" stroke-linejoin="round" stroke-linecap="butt"/>
<circle cx="472.5" cy="506.4" r="1.6" fill="#0000ff"/>
<circle cx="482.6" cy="516" r="1.6" fill="#0000ff"/>
<polyline points="577.6,463.3 582.8,463.3" fill="none" stroke="#00ff00" stroke-width="2.6" stroke-linejoin="round" stroke-linecap="butt"/>
<circle cx="577.6" cy="463.3" r="1.3" fill="#00ff00"/>
<circle cx="582.8" cy="463.3" r="1.3" fill="#00ff00"/>
<polyline points="582.8,463.3 592.4,463.3" fill="none" stroke="#ffff00" stroke-width="2.6" stroke-linejoin="round" stroke-linecap="butt"/>
<circle cx="592.4" cy="463.3" r="1.3" fill="#ffff00"/>
<polyline points="606.4,463.3 612.6,463.3 615.8,466.1 619.9,466.1 623.9,468.6 626.3,471.0" fill="none" stroke="#ff8c00" stroke-width="3.0" stroke-linejoin="round" stroke-linecap="butt"/>
<circle cx="606.4" cy="463.3" r="1.5" fill="#ff8c00"/>
<circle cx="626.3" cy="471" r="1.5" fill="#ff8c00"/>
<polyline points="626.3,471.0 629.0,468.0 633.0,471.0 637.0,475.0 641.0,477.0 644.0,480.0 646.0,484.5 649.0,488.0 652.0,490.0" fill="none" stroke="#ff4500" stroke-width="3.8" stroke-linejoin="round" stroke-linecap="butt"/>
<circle cx="652" cy="490" r="1.9" fill="#ff4500"/>
<polyline points="652.0,490.0 655.0,493.0 658.0,497.0 660.0,499.0 663.0,500.0 666.0,504.0 669.0,501.0 672.0,504.0 674.0,509.0 675.0,514.0" fill="none" stroke="#ff0000" stroke-width="3.8" stroke-linejoin="round" stroke-linecap="butt"/>
<circle cx="675" cy="514" r="1.9" fill="#ff0000"/>
<polyline points="675.0,514.0 676.5,519.0 679.5,521.0 682.5,520.0 685.0,518.0 688.0,518.0 691.0,522.0 694.0,519.4 697.6,515.6" fill="none" stroke="#8b4513" stroke-width="3.8" stroke-linejoin="round" stroke-linecap="butt"/>
<circle cx="697.6" cy="515.6" r="1.9" fill="#8b4513"/>
<polyline points="721.5,511.4 723.9,513.7 726.3,517.0 728.7,519.4 732.0,518.6 735.2,517.8 738.4,519.8 741.7,519.4" fill="none" stroke="#483d8b" stroke-width="3.8" stroke-linejoin="round" stroke-linecap="butt"/>
<circle cx="741.7" cy="519.4" r="1.9" fill="#483d8b"/>
<polyline points="741.7,519.4 744.9,518.6 747.3,521.8 749.7,523.4 753.0,520.2 756.2,519.4 759.0,520.0 762.0,522.0 764.0,525.0" fill="none" stroke="#0000ff" stroke-width="3.8" stroke-linejoin="round" stroke-linecap="butt"/>
<circle cx="764" cy="525" r="1.9" fill="#0000ff"/>
<polyline points="764.0,525.0 765.0,525.0 769.0,520.0 773.0,520.0 776.0,519.0 779.0,512.0 783.0,508.0 786.0,505.0 788.0,503.0" fill="none" stroke="#00bfff" stroke-width="3.8" stroke-linejoin="round" stroke-linecap="butt"/>
<circle cx="788" cy="503" r="1.9" fill="#00bfff"/>
<polyline points="788.0,503.0 791.0,500.0 795.0,497.0 798.0,496.5 801.0,493.0 805.0,489.0 808.0,486.0 811.0,483.0" fill="none" stroke="#00ffff" stroke-width="3.8" stroke-linejoin="round" stroke-linecap="butt"/>
<circle cx="811" cy="483" r="1.9" fill="#00ffff"/>
<polyline points="811.0,483.0 815.0,481.0 817.5,477.0 819.0,473.0 822.0,469.0 823.5,468.0" fill="none" stroke="#32cd32" stroke-width="3.8" stroke-linejoin="round" stroke-linecap="butt"/>
<circle cx="823.5" cy="468" r="1.9" fill="#32cd32"/>
<ellipse cx="448.6" cy="483.2" rx="1.7" ry="2.5" fill="#483d8b" stroke="#000" stroke-width="1.1"/>
<circle cx="469.9" cy="501.1" r="2.0" fill="#0000ff" stroke="#000" stroke-width="1.1"/>
<circle cx="573.9" cy="464.3" r="2.0" fill="#00ff00" stroke="#000" stroke-width="1.1"/>
<polyline points="595.6,463.3 599.6,463.3" fill="none" stroke="#000" stroke-width="4.2" stroke-linejoin="round" stroke-linecap="round"/>
<polyline points="602.0,463.3 603.8,463.3" fill="none" stroke="#000" stroke-width="4.2" stroke-linejoin="round" stroke-linecap="round"/>
<polyline points="595.6,463.3 599.6,463.3" fill="none" stroke="#ffff00" stroke-width="2.4" stroke-linejoin="round" stroke-linecap="butt"/>
<circle cx="595.6" cy="463.3" r="1.2" fill="#ffff00"/>
<circle cx="599.6" cy="463.3" r="1.2" fill="#ffff00"/>
<polyline points="602.0,463.3 603.8,463.3" fill="none" stroke="#ffff00" stroke-width="2.4" stroke-linejoin="round" stroke-linecap="butt"/>
<circle cx="602" cy="463.3" r="1.2" fill="#ffff00"/>
<circle cx="603.8" cy="463.3" r="1.2" fill="#ffff00"/>
<ellipse cx="227.4" cy="401.9" rx="1.9" ry="2.5" fill="#00bfff" stroke="#000" stroke-width="1.1"/></g>
<rect x="83.5" y="383.5" width="775.0" height="234.0" fill="none" stroke="#000"/>
<path d="M78 617.5H83.5" stroke="#000"/>
<g transform="translate(37.84,624.18)"><text x="14.27 24.80" y="0" font-size="17.633">40</text><rect x="2.85" y="-7.33" width="10.41" height="1.25" fill="#000" stroke="none"/></g>
<path d="M78 578.5H83.5" stroke="#000"/>
<g transform="translate(37.84,585.18)"><text x="14.35 24.80" y="0" font-size="17.633">30</text><rect x="2.85" y="-7.33" width="10.41" height="1.25" fill="#000" stroke="none"/></g>
<path d="M78 539.5H83.5" stroke="#000"/>
<g transform="translate(37.84,546.18)"><text x="14.18 24.80" y="0" font-size="17.633">20</text><rect x="2.85" y="-7.33" width="10.41" height="1.25" fill="#000" stroke="none"/></g>
<path d="M78 500.5H83.5" stroke="#000"/>
<g transform="translate(37.84,507.18)"><text x="14.24 24.80" y="0" font-size="17.633">10</text><rect x="2.85" y="-7.33" width="10.41" height="1.25" fill="#000" stroke="none"/></g>
<path d="M78 461.5H83.5" stroke="#000"/>
<g transform="translate(62.35,468.18)"><text x="0.29" y="0" font-size="17.633">0</text></g>
<path d="M78 422.5H83.5" stroke="#000"/>
<g transform="translate(51.77,429.18)"><text x="0.31 10.87" y="0" font-size="17.633">10</text></g>
<path d="M78 383.5H83.5" stroke="#000"/>
<g transform="translate(51.77,390.18)"><text x="0.25 10.87" y="0" font-size="17.633">20</text></g>
<path d="M98.5 617.5V622.5" stroke="#000"/>
<g transform="translate(101.01,691.42) rotate(-85)"><text x="0.28 8.99 17.94 22.61 31.56 40.27 44.94 53.89" y="0" font-size="14.694">10/18/18</text></g>
<path d="M121.5 617.5V622.5" stroke="#000"/>
<g transform="translate(124.04,691.42) rotate(-85)"><text x="0.28 9.11 17.94 22.61 31.56 40.27 44.94 53.89" y="0" font-size="14.694">11/18/18</text></g>
<path d="M144.5 617.5V622.5" stroke="#000"/>
<g transform="translate(146.33,691.42) rotate(-85)"><text x="0.28 8.89 17.94 22.61 31.56 40.27 44.94 53.89" y="0" font-size="14.694">12/18/18</text></g>
<path d="M167.5 617.5V622.5" stroke="#000"/>
<g transform="translate(169.39,691.04) rotate(-85)"><text x="0.16 9.11 17.94 22.61 31.56 40.27 44.94 53.68" y="0" font-size="14.694">01/18/19</text></g>
<path d="M190.5 617.5V622.5" stroke="#000"/>
<g transform="translate(192.43,691.04) rotate(-85)"><text x="0.16 8.89 17.94 22.61 31.56 40.27 44.94 53.68" y="0" font-size="14.694">02/18/19</text></g>
<path d="M211.5 617.5V622.5" stroke="#000"/>
<g transform="translate(213.23,691.04) rotate(-85)"><text x="0.16 9.20 17.94 22.61 31.56 40.27 44.94 53.68" y="0" font-size="14.694">03/18/19</text></g>
<path d="M234.5 617.5V622.5" stroke="#000"/>
<g transform="translate(236.26,691.04) rotate(-85)"><text x="0.16 9.12 17.94 22.61 31.56 40.27 44.94 53.68" y="0" font-size="14.694">04/18/19</text></g>
<path d="M256.5 617.5V622.5" stroke="#000"/>
<g transform="translate(258.55,691.04) rotate(-85)"><text x="0.16 9.12 17.94 22.61 31.56 40.27 44.94 53.68" y="0" font-size="14.694">05/18/19</text></g>
<path d="M279.5 617.5V622.5" stroke="#000"/>
<g transform="translate(281.59,691.04) rotate(-85)"><text x="0.16 9.12 17.94 22.61 31.56 40.27 44.94 53.68" y="0" font-size="14.694">06/18/19</text></g>
<path d="M301.5 617.5V622.5" stroke="#000"/>
<g transform="translate(303.88,691.04) rotate(-85)"><text x="0.16 9.08 17.94 22.61 31.56 40.27 44.94 53.68" y="0" font-size="14.694">07/18/19</text></g>
<path d="M324.5 617.5V622.5" stroke="#000"/>
<g transform="translate(326.91,691.04) rotate(-85)"><text x="0.16 9.23 17.94 22.61 31.56 40.27 44.94 53.68" y="0" font-size="14.694">08/18/19</text></g>
<path d="M347.5 617.5V622.5" stroke="#000"/>
<g transform="translate(349.94,691.04) rotate(-85)"><text x="0.16 9.02 17.94 22.61 31.56 40.27 44.94 53.68" y="0" font-size="14.694">09/18/19</text></g>
<path d="M370.5 617.5V622.5" stroke="#000"/>
<g transform="translate(372.20,691.38) rotate(-85)"><text x="0.28 8.99 17.94 22.61 31.56 40.27 44.94 53.68" y="0" font-size="14.694">10/18/19</text></g>
<path d="M393.5 617.5V622.5" stroke="#000"/>
<g transform="translate(395.24,691.38) rotate(-85)"><text x="0.28 9.11 17.94 22.61 31.56 40.27 44.94 53.68" y="0" font-size="14.694">11/18/19</text></g>
<path d="M415.5 617.5V622.5" stroke="#000"/>
<g transform="translate(417.53,691.38) rotate(-85)"><text x="0.28 8.89 17.94 22.61 31.56 40.27 44.94 53.68" y="0" font-size="14.694">12/18/19</text></g>
<path d="M438.5 617.5V622.5" stroke="#000"/>
<g transform="translate(440.59,691.01) rotate(-85)"><text x="0.16 9.11 17.94 22.61 31.56 40.27 44.72 53.65" y="0" font-size="14.694">01/18/20</text></g>
<path d="M461.5 617.5V622.5" stroke="#000"/>
<g transform="translate(463.62,691.01) rotate(-85)"><text x="0.16 8.89 17.94 22.61 31.56 40.27 44.72 53.65" y="0" font-size="14.694">02/18/20</text></g>
<path d="M483.5 617.5V622.5" stroke="#000"/>
<g transform="translate(485.17,691.01) rotate(-85)"><text x="0.16 9.20 17.94 22.61 31.56 40.27 44.72 53.65" y="0" font-size="14.694">03/18/20</text></g>
<path d="M506.5 617.5V622.5" stroke="#000"/>
<g transform="translate(508.20,691.01) rotate(-85)"><text x="0.16 9.12 17.94 22.61 31.56 40.27 44.72 53.65" y="0" font-size="14.694">04/18/20</text></g>
<path d="M528.5 617.5V622.5" stroke="#000"/>
<g transform="translate(530.49,691.01) rotate(-85)"><text x="0.16 9.12 17.94 22.61 31.56 40.27 44.72 53.65" y="0" font-size="14.694">05/18/20</text></g>
<path d="M551.5 617.5V622.5" stroke="#000"/>
<g transform="translate(553.53,691.01) rotate(-85)"><text x="0.16 9.12 17.94 22.61 31.56 40.27 44.72 53.65" y="0" font-size="14.694">06/18/20</text></g>
<path d="M573.5 617.5V622.5" stroke="#000"/>
<g transform="translate(575.82,691.01) rotate(-85)"><text x="0.16 9.08 17.94 22.61 31.56 40.27 44.72 53.65" y="0" font-size="14.694">07/18/20</text></g>
<path d="M596.5 617.5V622.5" stroke="#000"/>
<g transform="translate(598.85,691.01) rotate(-85)"><text x="0.16 9.23 17.94 22.61 31.56 40.27 44.72 53.65" y="0" font-size="14.694">08/18/20</text></g>
<path d="M619.5 617.5V622.5" stroke="#000"/>
<g transform="translate(621.88,691.01) rotate(-85)"><text x="0.16 9.02 17.94 22.61 31.56 40.27 44.72 53.65" y="0" font-size="14.694">09/18/20</text></g>
<path d="M642.5 617.5V622.5" stroke="#000"/>
<g transform="translate(644.14,691.35) rotate(-85)"><text x="0.28 8.99 17.94 22.61 31.56 40.27 44.72 53.65" y="0" font-size="14.694">10/18/20</text></g>
<path d="M665.5 617.5V622.5" stroke="#000"/>
<g transform="translate(667.18,691.35) rotate(-85)"><text x="0.28 9.11 17.94 22.61 31.56 40.27 44.72 53.65" y="0" font-size="14.694">11/18/20</text></g>
<path d="M687.5 617.5V622.5" stroke="#000"/>
<g transform="translate(689.47,691.35) rotate(-85)"><text x="0.28 8.89 17.94 22.61 31.56 40.27 44.72 53.65" y="0" font-size="14.694">12/18/20</text></g>
<path d="M710.5 617.5V622.5" stroke="#000"/>
<g transform="translate(712.54,690.92) rotate(-85)"><text x="0.16 9.11 17.94 22.61 31.56 40.27 44.72 53.77" y="0" font-size="14.694">01/18/21</text></g>
<path d="M733.5 617.5V622.5" stroke="#000"/>
<g transform="translate(735.57,690.92) rotate(-85)"><text x="0.16 8.89 17.94 22.61 31.56 40.27 44.72 53.77" y="0" font-size="14.694">02/18/21</text></g>
<path d="M754.5 617.5V622.5" stroke="#000"/>
<g transform="translate(756.37,690.92) rotate(-85)"><text x="0.16 9.20 17.94 22.61 31.56 40.27 44.72 53.77" y="0" font-size="14.694">03/18/21</text></g>
<path d="M777.5 617.5V622.5" stroke="#000"/>
<g transform="translate(779.41,690.92) rotate(-85)"><text x="0.16 9.12 17.94 22.61 31.56 40.27 44.72 53.77" y="0" font-size="14.694">04/18/21</text></g>
<path d="M799.5 617.5V622.5" stroke="#000"/>
<g transform="translate(801.70,690.92) rotate(-85)"><text x="0.16 9.12 17.94 22.61 31.56 40.27 44.72 53.77" y="0" font-size="14.694">05/18/21</text></g>
<path d="M822.5 617.5V622.5" stroke="#000"/>
<g transform="translate(824.73,690.92) rotate(-85)"><text x="0.16 9.12 17.94 22.61 31.56 40.27 44.72 53.77" y="0" font-size="14.694">06/18/21</text></g>
<path d="M844.5 617.5V622.5" stroke="#000"/>
<g transform="translate(847.02,690.92) rotate(-85)"><text x="0.16 9.08 17.94 22.61 31.56 40.27 44.72 53.77" y="0" font-size="14.694">07/18/21</text></g>
<g transform="translate(129.00,374.90) scale(1,0.966)"><text x="-0.53 13.16 26.43 34.50 40.18 52.89 64.23 76.19 82.24 91.73 104.73 123.87 136.22 149.24 155.95 169.50 176.97 190.24 197.24 209.20 216.08 228.78 241.51 254.04 266.98 279.62 292.41 305.07 317.67 330.60 343.33 356.03 368.78 381.29 394.20 406.43 412.79 419.49 432.21 445.02 451.67 464.58 477.21 483.83 496.74 509.31 522.21 534.42 541.62 548.87 560.85 567.71 580.37 593.09 599.74 612.50 625.28 631.90 644.81 657.35 670.10" y="0" font-size="21.159">Surface Temperature 300234062880820  11/13/2018 to 06/19/2021</text></g>
<g transform="translate(28.48,588.65) rotate(-90)"><text x="-0.53 10.90 21.81 28.64 33.28 43.88 53.33 63.33 68.37 76.13 86.94 102.85 113.10 123.82 129.44 140.92 147.00 157.90 163.87" y="0" font-size="17.633">Surface Temperature</text></g>
</svg></body></html>
